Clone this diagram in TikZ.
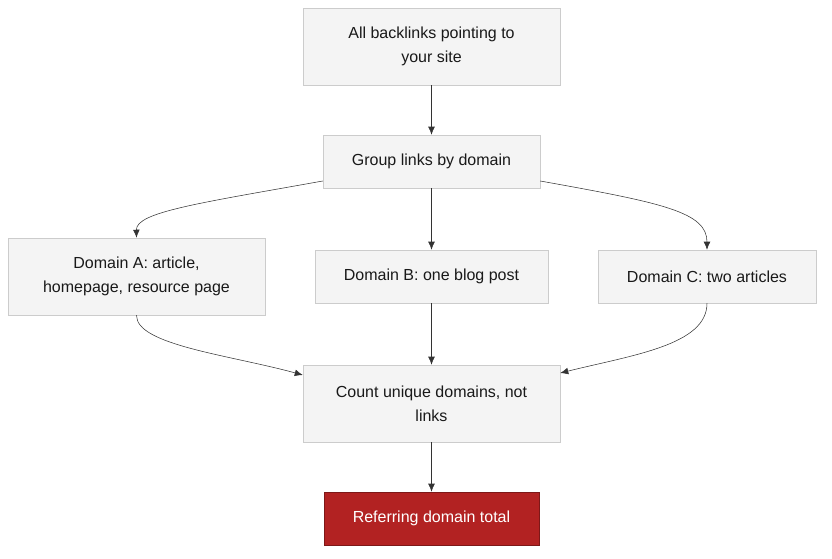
\documentclass[tikz,border=0pt]{standalone}
\usepackage{fontspec}
\setmainfont{Liberation Sans}
\usetikzlibrary{arrows.meta}
\definecolor{boxfill}{HTML}{F4F4F4}
\definecolor{boxline}{HTML}{CCCCCC}
\definecolor{linkcol}{HTML}{333333}
\definecolor{totalred}{HTML}{B22222}
\begin{document}
\begin{tikzpicture}
			[x=0.75pt,y=-0.75pt,line cap=round,
			%Styles
			step box/.style={draw=boxline,fill=boxfill,align=center,font=\fontsize{12}{18}\selectfont,text=black!90,inner sep=0pt},
			total box/.style={step box,draw=totalred!70!black,fill=totalred,text=white},
			link/.style={draw=linkcol,-{Latex[length=6pt,width=5pt]}}
			]
			\useasboundingbox (0,0) rectangle (832,558);
			
			%The boxes
			\node[step box,minimum width=257*0.75pt,minimum height=77*0.75pt] (all) at (431.5,46.5) {All backlinks pointing to\\your site};
			\node[step box,minimum width=217*0.75pt,minimum height=53*0.75pt] (group) at (431.5,161.5) {Group links by domain};
			\node[step box,minimum width=257*0.75pt,minimum height=77*0.75pt] (doma) at (136.5,276.5) {Domain A: article,\\homepage, resource page};
			\node[step box,minimum width=233*0.75pt,minimum height=53*0.75pt] (domb) at (431.5,276.5) {Domain B: one blog post};
			\node[step box,minimum width=218*0.75pt,minimum height=53*0.75pt] (domc) at (707,276.5) {Domain C: two articles};
			\node[step box,minimum width=257*0.75pt,minimum height=77*0.75pt] (count) at (431.5,403.5) {Count unique domains, not\\links};
			\node[total box,minimum width=215*0.75pt,minimum height=53*0.75pt] (total) at (431.5,518.5) {Referring domain total};
			
			%The links
			\draw[link] (all) -- (group);
			\draw[link] (group) -- (domb);
			\draw[link] (group.west|-0,181) .. controls (200,203) and (136,212) .. (doma.north);
			\draw[link] (group.east|-0,181) .. controls (663,203) and (707,212) .. (domc.north);
			\draw[link] (doma.south) .. controls (136,345) and (230,355) .. (count.west|-0,375);
			\draw[link] (domc.south) .. controls (707,345) and (633,355) .. (count.east|-0,373);
			\draw[link] (domb) -- (count);
			\draw[link] (count) -- (total);
		\end{tikzpicture}
\end{document}
